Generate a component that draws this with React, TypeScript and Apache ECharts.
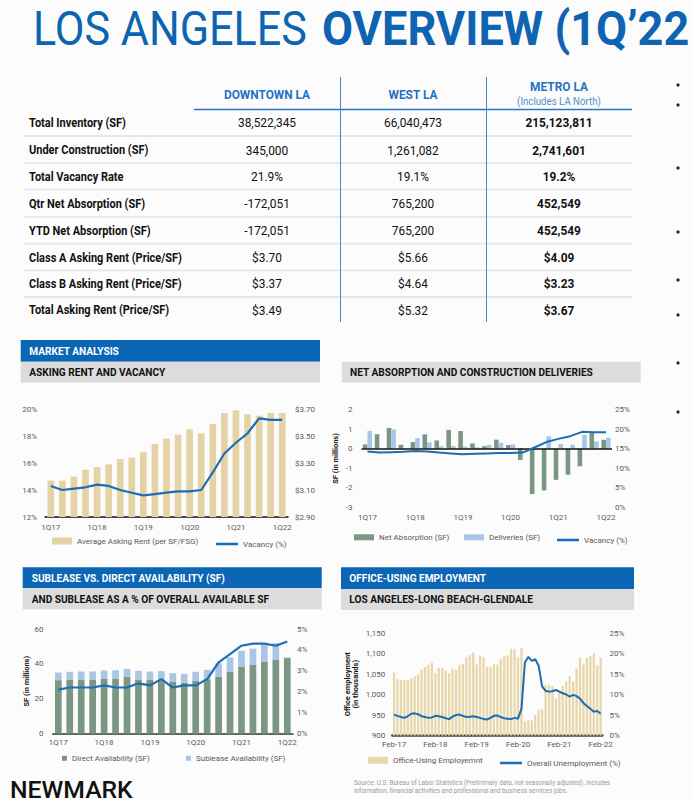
import React, { useEffect, useRef } from "react";
import * as echarts from "echarts";

// ---------- DATA ----------
const quarters = ["1Q17","2Q17","3Q17","4Q17","1Q18","2Q18","3Q18","4Q18","1Q19","2Q19","3Q19","4Q19","1Q20","2Q20","3Q20","4Q20","1Q21","2Q21","3Q21","4Q21","1Q22"];
const askingRent = [3.17,3.17,3.2,3.25,3.27,3.29,3.33,3.34,3.38,3.44,3.48,3.51,3.55,3.52,3.59,3.67,3.69,3.66,3.65,3.67,3.67];
const vacancy = [14.3,14.0,14.1,14.2,14.4,14.3,14.0,13.8,13.6,13.7,13.8,13.9,13.9,14.0,15.3,16.7,17.5,18.2,19.3,19.2,19.2];
const netAbsorption = [0.22,0.74,1.06,0.2,0.34,0.73,0.42,0.96,0.9,0.27,0.13,0.46,0.19,-0.57,-2.31,-2.13,-1.59,-1.33,-0.9,0.81,0.45];
const deliveries = [0.91,0,0.98,0,0.54,0.32,0.12,0.14,0.1,0.07,0.19,0.3,0.22,0,0,0.63,0.24,0.2,0.71,0.37,0.56];
const directAvail = [30.6,31.0,31.0,31.0,31.3,31.5,32.5,31.0,31.0,30.6,29.8,29.2,30.4,31.2,32.7,35.6,38.5,39.6,41.3,42.3,43.3];
const subleaseAvail = [4.4,4.4,4.6,4.6,4.9,4.8,4.6,5.0,4.6,5.2,4.8,5.0,5.0,5.3,7.7,8.1,9.0,9.1,10.0,9.6,0.4];
const subleasePct = [2.1,2.2,2.2,2.2,2.3,2.2,2.2,2.4,2.3,2.6,2.2,2.3,2.3,2.6,3.4,3.8,4.2,4.3,4.3,4.2,4.4];
const months = ["Feb-17","Mar-17","Apr-17","May-17","Jun-17","Jul-17","Aug-17","Sep-17","Oct-17","Nov-17","Dec-17",
  "Jan-18","Feb-18","Mar-18","Apr-18","May-18","Jun-18","Jul-18","Aug-18","Sep-18","Oct-18","Nov-18","Dec-18",
  "Jan-19","Feb-19","Mar-19","Apr-19","May-19","Jun-19","Jul-19","Aug-19","Sep-19","Oct-19","Nov-19","Dec-19",
  "Jan-20","Feb-20","Mar-20","Apr-20","May-20","Jun-20","Jul-20","Aug-20","Sep-20","Oct-20","Nov-20","Dec-20",
  "Jan-21","Feb-21","Mar-21","Apr-21","May-21","Jun-21","Jul-21","Aug-21","Sep-21","Oct-21","Nov-21","Dec-21",
  "Jan-22","Feb-22"];
const employment = [1054,1038,1036,1035,1035,1039,1044,1049,1061,1067,1072,1077,1053,1065,1065,1058,1052,1063,1060,1072,1075,1091,1096,1102,1073,1095,1090,1067,1067,1075,1073,1086,1093,1095,1112,1110,1090,1113,
  935,937,937,950,962,964,1024,1024,1021,991,1009,1021,1032,1044,1032,1063,1090,1075,1090,1094,1100,1072,1090];
const unemployment = [5.1,4.8,4.5,4.3,4.7,5.3,5.4,5.2,4.7,4.5,4.3,4.4,4.8,4.7,4.5,4.2,4.0,4.6,5.0,5.1,4.8,4.5,4.6,4.7,4.5,4.3,4.0,3.9,4.3,4.8,4.9,4.5,4.2,4.1,4.0,4.3,4.1,6.5,
  17.8,19.2,18.2,18.6,17.0,12.0,10.9,10.7,10.8,11.1,10.7,10.3,10.0,9.5,9.9,9.6,9.0,7.9,7.2,6.5,5.8,6.0,5.3];

const rowLabels = ["Total Inventory (SF)","Under Construction (SF)","Total Vacancy Rate","Qtr Net Absorption (SF)","YTD Net Absorption (SF)","Class A Asking Rent (Price/SF)","Class B Asking Rent (Price/SF)","Total Asking Rent (Price/SF)"];
const downtownLA = ["38,522,345","345,000","21.9%","-172,051","-172,051","$3.70","$3.37","$3.49"];
const westLA = ["66,040,473","1,261,082","19.1%","765,200","765,200","$5.66","$4.64","$5.32"];
const metroLA = ["215,123,811","2,741,601","19.2%","452,549","452,549","$4.09","$3.23","$3.67"];

// ---------- STYLE ----------
const FONT = "Roboto";
const BLUE = "#0b66b5";
const HEAD_BLUE = "#1f74c4";
const GRAYBAR = "#dcdcdc";
const TAN = "#e5d3a5";
const GREEN = "#7c9684";
const LBLUE = "#a9c6e7";
const LINE = "#1b6db4";
const LABEL = "#5a5a5a";

function txt(text: string, x: number, y: number, size: number, o: any = {}) {
  return {
    type: "text", x, y, scaleX: o.scaleX ?? 0.88, silent: true,
    style: {
      text, fontSize: size, fontFamily: FONT, fontWeight: o.weight ?? 400,
      fill: o.color ?? "#111", align: o.align ?? "left", verticalAlign: "middle",
    },
  };
}
function rect(x: number, y: number, w: number, h: number, fill: string) {
  return { type: "rect", silent: true, shape: { x, y, width: w, height: h }, style: { fill } };
}
function line(x1: number, y1: number, x2: number, y2: number, stroke: string, lw: number) {
  return { type: "line", silent: true, shape: { x1, y1, x2, y2 }, style: { stroke, lineWidth: lw } };
}

const axisLabel = { fontSize: 8, color: LABEL, fontFamily: FONT };

function legend(name: string, left: number, top: number, w: number, h: number) {
  return {
    left, top, padding: 0, itemGap: 0, itemWidth: w, itemHeight: h, selectedMode: false,
    data: [{ name, icon: "rect" }],
    textStyle: { fontSize: 8, color: LABEL, fontFamily: FONT },
  };
}

export default function App() {
  const ref = useRef<HTMLDivElement>(null);
  useEffect(() => {
    if (!ref.current) return;
    const chart = echarts.init(ref.current, null, { renderer: "svg" });

    const rowYs = [122.7, 150, 176.7, 203.3, 230.7, 257.3, 283.3, 310];
    const sepYs = [136, 162.8, 189.6, 216.8, 243.6, 270.3, 297];
    const graphic: any[] = [];
    // Title
    graphic.push(txt("LOS ANGELES", 33, 28, 49, { color: "#0e64b0" }));
    graphic.push(txt("OVERVIEW (1Q\u201922", 322, 28, 49, { color: "#0e64b0", weight: 700, scaleX: 0.92 }));
    // table headers
    graphic.push(txt("DOWNTOWN LA", 267, 94, 13.5, { color: HEAD_BLUE, weight: 700, align: "center" }));
    graphic.push(txt("WEST LA", 413, 94, 13.5, { color: HEAD_BLUE, weight: 700, align: "center" }));
    graphic.push(txt("METRO LA", 559, 86.7, 13.5, { color: HEAD_BLUE, weight: 700, align: "center" }));
    graphic.push(txt("(Includes LA North)", 559, 101.7, 11, { color: "#4f8fd0", align: "center" }));
    sepYs.forEach((y) => graphic.push(line(24, y, 632, y, "#e6e6e6", 1.8)));
    graphic.push(line(194, 109.5, 632, 109.5, "#2a74c0", 1.6));
    graphic.push(line(340.5, 77, 340.5, 322, "#4a86c6", 1));
    graphic.push(line(486.5, 77, 486.5, 322, "#4a86c6", 1));
    rowLabels.forEach((l, i) => {
      graphic.push(txt(l, 29, rowYs[i], 12.5, { weight: 700 }));
      graphic.push(txt(downtownLA[i], 267, rowYs[i], 13.5, { align: "center" }));
      graphic.push(txt(westLA[i], 413, rowYs[i], 13.5, { align: "center" }));
      graphic.push(txt(metroLA[i], 559, rowYs[i], 13.5, { align: "center", weight: 700 }));
    });
    // bullets
    [85, 105, 168, 232, 280, 315, 363, 412].forEach((y) =>
      graphic.push({ type: "circle", silent: true, shape: { cx: 678, cy: y, r: 1.6 }, style: { fill: "#222" } })
    );
    // section bars
    graphic.push(rect(20.7, 340, 299.3, 21.8, BLUE));
    graphic.push(txt("MARKET ANALYSIS", 29.3, 350.8, 11.5, { color: "#fff", weight: 700 }));
    graphic.push(rect(20.7, 361.8, 299.3, 21, GRAYBAR));
    graphic.push(txt("ASKING RENT AND VACANCY", 29.3, 372, 11.5, { weight: 700 }));
    graphic.push(rect(341.7, 361.8, 299, 20.6, GRAYBAR));
    graphic.push(txt("NET ABSORPTION AND CONSTRUCTION DELIVERIES", 350, 372, 11.5, { weight: 700 }));
    graphic.push(rect(22.7, 567.3, 299, 21, BLUE));
    graphic.push(txt("SUBLEASE VS. DIRECT AVAILABILITY (SF)", 31.7, 578.3, 11.5, { color: "#fff", weight: 700 }));
    graphic.push(rect(22.7, 588.3, 299, 21, GRAYBAR));
    graphic.push(txt("AND SUBLEASE AS A % OF OVERALL AVAILABLE SF", 31.7, 599.3, 11.5, { weight: 700 }));
    graphic.push(rect(341, 567.3, 293, 21.7, BLUE));
    graphic.push(txt("OFFICE-USING EMPLOYMENT", 349.3, 578, 11.5, { color: "#fff", weight: 700 }));
    graphic.push(rect(341, 589, 293, 21, GRAYBAR));
    graphic.push(txt("LOS ANGELES-LONG BEACH-GLENDALE", 349.3, 599.5, 11.5, { weight: 700 }));
    // footer
    graphic.push(txt("NEWMARK", 10, 790, 24.5, { weight: 500, scaleX: 1.01, color: "#111" }));
    graphic.push(txt("Source: U.S. Bureau of Labor Statistics (Preliminary data, not seasonally adjusted). Includes", 354, 782.7, 7.2, { color: "#9a9a9a" }));
    graphic.push(txt("information, financial activities and professional and business services jobs.", 354, 790.7, 7.2, { color: "#9a9a9a" }));

    const yName = { fontSize: 7.5, fontWeight: 700, color: "#111", fontFamily: FONT, lineHeight: 8 };

    const option: any = {
      animation: false,
      backgroundColor: "#fcfcfc",
      graphic,
      grid: [
        { left: 45, top: 409, width: 243, height: 108 },
        { left: 361.5, top: 409.5, width: 250.5, height: 98 },
        { left: 52.6, top: 629, width: 240.4, height: 104.5 },
        { left: 392.3, top: 633, width: 210.1, height: 102.5 },
      ],
      xAxis: [
        { type: "category", gridIndex: 0, data: quarters, axisTick: { show: false },
          axisLine: { lineStyle: { color: "#111", width: 1.5 } },
          axisLabel: { ...axisLabel, interval: 3, margin: 6 } },
        { type: "category", gridIndex: 1, data: quarters, axisTick: { show: false },
          axisLine: { show: false, onZero: false },
          axisLabel: { ...axisLabel, interval: 3, margin: 6 } },
        { type: "category", gridIndex: 2, data: quarters, axisTick: { show: false },
          axisLine: { lineStyle: { color: "#333", width: 1.5 } },
          axisLabel: { ...axisLabel, interval: 3, margin: 5 } },
        { type: "category", gridIndex: 3, data: months, axisTick: { show: false },
          axisLine: { lineStyle: { color: "#4d4640", width: 2.5 } },
          axisLabel: { ...axisLabel, interval: 11, margin: 5 } },
      ],
      yAxis: [
        { type: "value", gridIndex: 0, position: "left", min: 12, max: 20, interval: 2,
          splitLine: { show: false }, axisLine: { show: false }, axisTick: { show: false },
          axisLabel: { ...axisLabel, margin: 8, formatter: "{value}%" } },
        { type: "value", gridIndex: 0, position: "right", min: 2.9, max: 3.7, interval: 0.1,
          splitLine: { show: false }, axisLine: { show: false }, axisTick: { show: false },
          axisLabel: { ...axisLabel, margin: 7, formatter: (v: number) => {
            const c = Math.round(v * 100);
            return (c - 290) % 20 === 0 ? "$" + (c / 100).toFixed(2) : "";
          } } },
        { type: "value", gridIndex: 1, position: "left", min: -3, max: 2, interval: 1,
          splitLine: { show: false }, axisLine: { show: false }, axisTick: { show: false },
          name: "SF (in millions)", nameLocation: "middle", nameGap: 22, nameTextStyle: yName,
          axisLabel: { ...axisLabel, margin: 9 } },
        { type: "value", gridIndex: 1, position: "right", min: 0, max: 25, interval: 5,
          splitLine: { show: false }, axisLine: { show: false }, axisTick: { show: false },
          axisLabel: { ...axisLabel, margin: 3, formatter: "{value}%" } },
        { type: "value", gridIndex: 2, position: "left", min: 0, max: 60, interval: 20,
          splitLine: { show: false }, axisLine: { show: false }, axisTick: { show: false },
          name: "SF (in millions)", nameLocation: "middle", nameGap: 21, nameTextStyle: yName,
          axisLabel: { ...axisLabel, margin: 9 } },
        { type: "value", gridIndex: 2, position: "right", min: 0, max: 5, interval: 1,
          splitLine: { show: false }, axisLine: { show: false }, axisTick: { show: false },
          axisLabel: { ...axisLabel, margin: 4, formatter: "{value}%" } },
        { type: "value", gridIndex: 3, position: "left", min: 900, max: 1150, interval: 50,
          splitLine: { show: false }, axisLine: { show: false }, axisTick: { show: false },
          name: "Office employment\n(in thousands)", nameLocation: "middle", nameGap: 33, nameTextStyle: yName,
          axisLabel: { ...axisLabel, margin: 7, formatter: (v: number) => v.toLocaleString("en-US") } },
        { type: "value", gridIndex: 3, position: "right", min: 0, max: 25, interval: 5,
          splitLine: { show: false }, axisLine: { show: false }, axisTick: { show: false },
          axisLabel: { ...axisLabel, margin: 7, formatter: "{value}%" } },
      ],
      legend: [
        legend("Average Asking Rent (per SF/FSG)", 52, 537, 20, 7),
        legend("Vacancy (%)", 216, 540, 22, 2.5),
        legend("Net Absorption (SF)", 354, 533.3, 20, 6),
        legend("Deliveries (SF)", 464, 533.3, 20, 6),
        legend("Vacancy (%)", 557, 536, 22, 2.5),
        legend("Direct Availability (SF)", 62, 754.3, 5, 5),
        legend("Sublease Availability (SF)", 186, 754.3, 5, 5),
        legend("Office-Using Employemnt", 368, 756.3, 20, 7),
        legend("Overall Unemployment (%)", 500, 759, 22, 2.5),
      ],
      series: [
        { name: "Average Asking Rent (per SF/FSG)", type: "bar", xAxisIndex: 0, yAxisIndex: 1,
          data: askingRent, barWidth: 6.7, itemStyle: { color: TAN } },
        { name: "Vacancy (%)", type: "line", xAxisIndex: 0, yAxisIndex: 0, data: vacancy,
          symbol: "none", lineStyle: { color: LINE, width: 2.2 }, itemStyle: { color: LINE } },

        { name: "Net Absorption (SF)", type: "bar", xAxisIndex: 1, yAxisIndex: 2, data: netAbsorption,
          barWidth: 4.6, barGap: "0%", itemStyle: { color: GREEN },
          markLine: { silent: true, symbol: "none", label: { show: false },
            lineStyle: { color: "#111", width: 1.5, type: "solid" }, data: [{ yAxis: 0 }] } },
        { name: "Deliveries (SF)", type: "bar", xAxisIndex: 1, yAxisIndex: 2, data: deliveries,
          barWidth: 4.6, barGap: "0%", itemStyle: { color: LBLUE } },
        { name: "Vacancy (%)", type: "line", xAxisIndex: 1, yAxisIndex: 3, data: vacancy, z: 5,
          symbol: "none", lineStyle: { color: LINE, width: 2 }, itemStyle: { color: LINE } },

        { name: "Direct Availability (SF)", type: "bar", stack: "avail", xAxisIndex: 2, yAxisIndex: 4,
          data: directAvail, barWidth: 6.7, itemStyle: { color: GREEN } },
        { name: "Sublease Availability (SF)", type: "bar", stack: "avail", xAxisIndex: 2, yAxisIndex: 4,
          data: subleaseAvail, barWidth: 6.7, itemStyle: { color: LBLUE } },
        { name: "Sublease %", type: "line", xAxisIndex: 2, yAxisIndex: 5, data: subleasePct, z: 5,
          symbol: "none", lineStyle: { color: LINE, width: 2.2 }, itemStyle: { color: LINE } },

        { name: "Office-Using Employemnt", type: "bar", xAxisIndex: 3, yAxisIndex: 6, data: employment,
          barWidth: 2.3, itemStyle: { color: "#e8d7ab" } },
        { name: "Overall Unemployment (%)", type: "line", xAxisIndex: 3, yAxisIndex: 7, data: unemployment, z: 5,
          symbol: "none", lineStyle: { color: LINE, width: 2 }, itemStyle: { color: LINE } },
      ],
    };
    chart.setOption(option);
    return () => chart.dispose();
  }, []);
  return <div ref={ref} style={{ position: "absolute", left: 0, top: 0, width: 693, height: 799 }} />;
}
